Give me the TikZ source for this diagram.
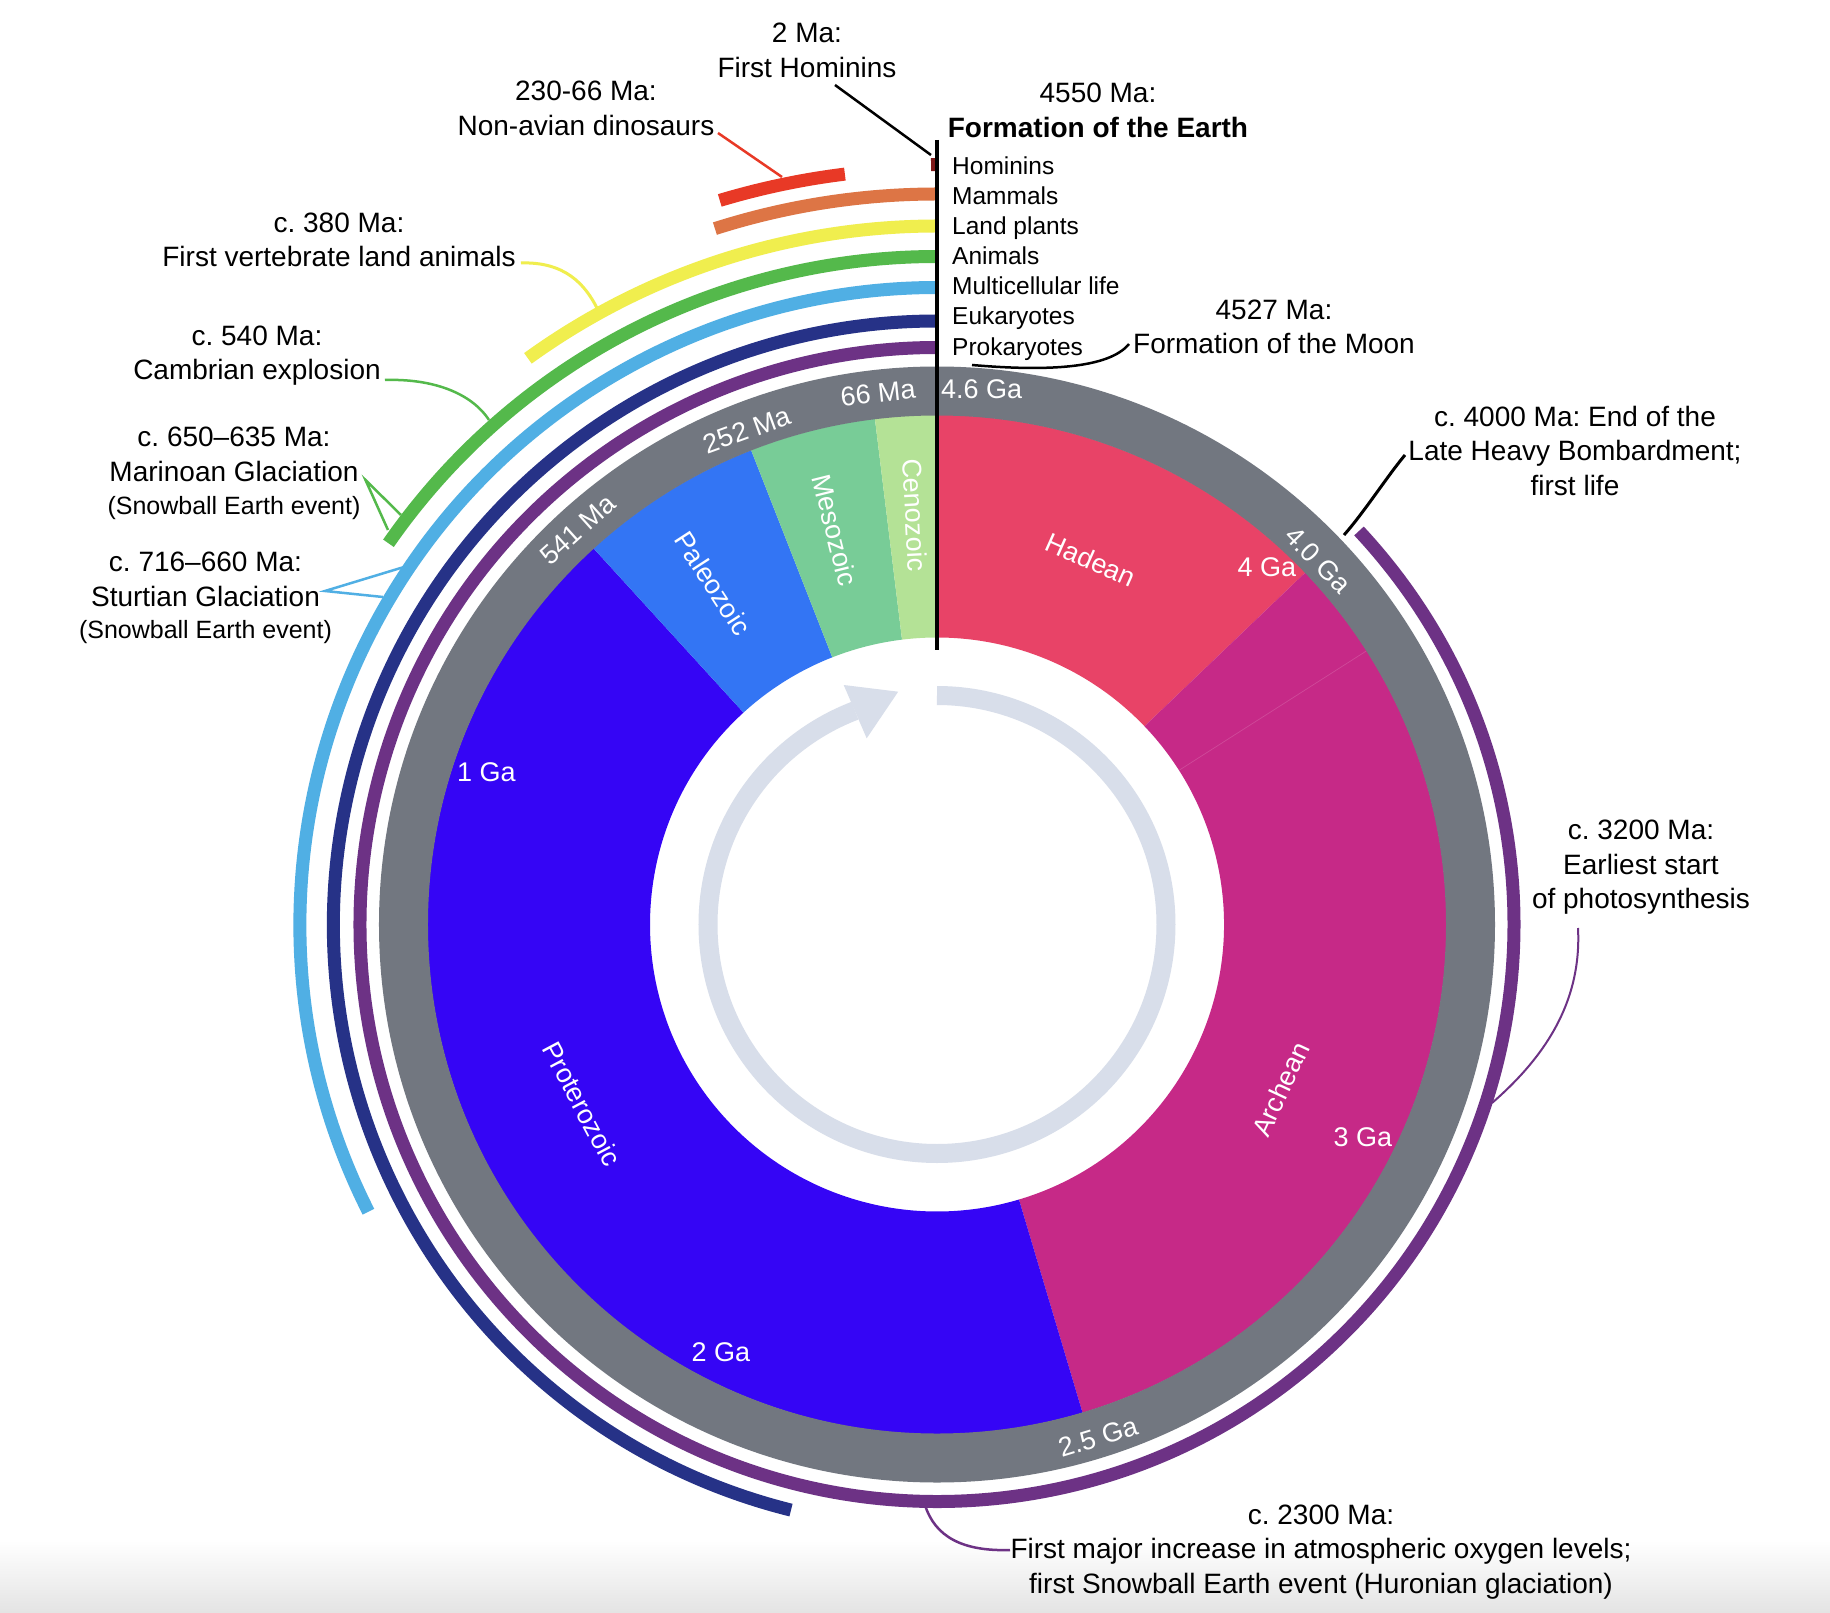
\documentclass[tikz,border=0pt]{standalone}
\usepackage{fontspec}
\setmainfont{Liberation Sans}
\definecolor{ringgray}{RGB}{114,119,128}
\definecolor{hadean}{RGB}{232,67,103}
\definecolor{archean}{RGB}{198,41,135}
\definecolor{proterozoic}{RGB}{53,5,245}
\definecolor{paleozoic}{RGB}{51,117,244}
\definecolor{mesozoic}{RGB}{120,204,151}
\definecolor{cenozoic}{RGB}{180,226,150}
\definecolor{arrowgray}{RGB}{216,222,234}
\definecolor{prok}{RGB}{109,50,133}
\definecolor{euk}{RGB}{38,50,135}
\definecolor{multi}{RGB}{80,175,228}
\definecolor{anim}{RGB}{84,185,75}
\definecolor{plants}{RGB}{240,238,78}
\definecolor{mammals}{RGB}{221,117,69}
\definecolor{dinos}{RGB}{232,57,38}
\definecolor{homin}{RGB}{125,25,25}
\definecolor{bottomgray}{RGB}{228,228,228}
\newcommand{\wedgeseg}[3]{\fill[#1] (#2:287) arc[start angle=#2, end angle=#3, radius=287] -- (#3:509.5) arc[start angle=#3, end angle=#2, radius=509.5] -- cycle;}
\frenchspacing
\begin{document}
\begin{tikzpicture}[x=1pt,y=1pt,
  lbl/.style={font=\fontsize{28}{34.5}\selectfont, align=center, inner sep=0pt},
  smalllbl/.style={font=\fontsize{25}{30}\selectfont, inner sep=0pt},
  ringlbl/.style={text=white, font=\fontsize{27}{32}\selectfont, inner sep=0pt},
  leg/.style={font=\fontsize{24.5}{30}\selectfont, anchor=base west, inner sep=0pt},
  band/.style={line width=13},
  callout/.style={line width=2.5}]
\useasboundingbox (-937,-687.5) rectangle (893,924.5);
\fill[white] (-937,-687.5) rectangle (893,924.5);
\shade[top color=white, bottom color=bottomgray] (-937,-687.5) rectangle (893,-615.5);

% era wedges
\wedgeseg{hadean}{43.7}{90}
\wedgeseg{archean}{-73.4}{43.7}
\wedgeseg{proterozoic}{132.4}{286.6}
\wedgeseg{paleozoic}{111.4}{132.4}
\wedgeseg{mesozoic}{97}{111.4}
\wedgeseg{cenozoic}{90}{97}
\draw[archean!85!white, line width=0.7] (32.5:287) -- (32.5:509);

% gray time ring
\fill[ringgray, even odd rule] (0,0) circle[radius=558] (0,0) circle[radius=509];

% inner arrow
\draw[arrowgray, line width=19] (90:229) arc[start angle=90, end angle=-249, radius=229];
\fill[arrowgray] (-93.3,239.5) -- (-38.8,232.8) -- (-70.3,186.2) -- cycle;

% life bands
\draw[band, prok] (403:577) arc[start angle=403, end angle=90, radius=577];
\draw[band, euk] (256:603.5) arc[start angle=256, end angle=90, radius=603.5];
\draw[band, multi] (206.8:637) arc[start angle=206.8, end angle=90, radius=637];
\draw[band, anim] (145.2:668) arc[start angle=145.2, end angle=90, radius=668];
\draw[band, plants] (125.85:698.5) arc[start angle=125.85, end angle=90, radius=698.5];
\draw[band, mammals] (107.7:730.5) arc[start angle=107.7, end angle=90, radius=730.5];
\draw[band, dinos] (106.7:756) arc[start angle=106.7, end angle=97, radius=756];
\draw[band, homin] (90.45:760) arc[start angle=90.45, end angle=90, radius=760];

% vertical line
\coordinate (vtop) at (0,784.5);
\coordinate (vbot) at (0,274.5);
\draw[line width=4.5] (vtop) -- (vbot);

% callout coordinates
\coordinate (homA) at (-102,839.5);
\coordinate (homB) at (-6,769.5);
\coordinate (dinA) at (-219,791.5);
\coordinate (dinB) at (-155,747.5);
\coordinate (vertA) at (-416,661.5);
\coordinate (vertB) at (-340,616.5);
\coordinate (cambA) at (-552,544.5);
\coordinate (cambB) at (-448,504.5);
\coordinate (marA) at (-571.5,444.5);
\coordinate (marB) at (-536,409.5);
\coordinate (marC) at (-549,394.5);
\coordinate (stuA) at (-612,333.5);
\coordinate (stuB) at (-533,357.5);
\coordinate (stuC) at (-554,327.5);
\coordinate (moonA) at (35,559.5);
\coordinate (moonB) at (192,580.5);
\coordinate (lhbA) at (407,389.5);
\coordinate (lhbB) at (468,469.5);
\coordinate (phoA) at (641,-3.5);
\coordinate (phoB) at (555,-178.5);
\coordinate (oxyA) at (73,-625.5);
\coordinate (oxyB) at (-12,-580.5);

\draw[callout] (homA) -- (homB);
\draw[callout, dinos] (dinA) -- (dinB);
\draw[callout, plants, line width=3] (vertA) .. controls (-372,663) and (-352,640) .. (vertB);
\draw[callout, anim] (cambA) .. controls (-505,546) and (-466,532) .. (cambB);
\draw[callout, anim] (marB) -- (marA) -- (marC);
\draw[callout, multi] (stuB) -- (stuA) -- (stuC);
\draw[callout] (moonA) .. controls (110,553) and (172,556) .. (moonB);
\draw[callout, line width=3] (lhbA) .. controls (427,412) and (450,448) .. (lhbB);
\draw[callout, prok, line width=2] (phoA) .. controls (645,-80) and (605,-135) .. (phoB);
\draw[callout, prok] (oxyA) .. controls (25,-627) and (-2,-612) .. (oxyB);

% legend
\node[leg] (lhom) at (15,750) {Hominins};
\node[leg] (lmam) at (15,719.9) {Mammals};
\node[leg] (lpla) at (15,689.8) {Land plants};
\node[leg] (lani) at (15,659.7) {Animals};
\node[leg] (lmul) at (15,629.6) {Multicellular life};
\node[leg] (leuk) at (15,599.5) {Eukaryotes};
\node[leg] (lpro) at (15,569.4) {Prokaryotes};

% event labels
\node[lbl] (thom) at (-130,874) {2 Ma:\\First Hominins};
\node[lbl] (tdin) at (-351,816) {230-66 Ma:\\Non-avian dinosaurs};
\node[lbl] (tear) at (161,814) {4550 Ma:\\\textbf{Formation of the Earth}};
\node[lbl] (tmoo) at (337,597.5) {4527 Ma:\\Formation of the Moon};
\node[lbl] (tlhb) at (638,474) {c. 4000 Ma: End of the\\Late Heavy Bombardment;\\first life};
\node[lbl] (tpho) at (704,57) {c. 3200 Ma:\\Earliest start\\of photosynthesis};
\node[lbl] (toxy) at (384,-627.5) {c. 2300 Ma:\\First major increase in atmospheric oxygen levels;\\first Snowball Earth event (Huronian glaciation)};
\node[lbl] (tver) at (-598,684.5) {c. 380 Ma:\\First vertebrate land animals};
\node[lbl] (tcam) at (-680,569) {c. 540 Ma:\\Cambrian explosion};
\node[lbl] (tmar) at (-703,470) {c. 650–635 Ma:\\Marinoan Glaciation};
\node[smalllbl] (tmar2) at (-703,416.5) {(Snowball Earth event)};
\node[lbl] (tstu) at (-731.5,345) {c. 716–660 Ma:\\Sturtian Glaciation};
\node[smalllbl] (tstu2) at (-731.5,292.5) {(Snowball Earth event)};

% ring labels
\node[ringlbl, anchor=west] (r46) at (4,535.5) {4.6 Ga};
\node[ringlbl, rotate=6] (r66) at (-59,531.5) {66 Ma};
\node[ringlbl, rotate=20] (r252) at (-190,494.5) {252 Ma};
\node[ringlbl, rotate=42] (r541) at (-359,394.5) {541 Ma};
\node[ringlbl, rotate=-46] (r40) at (381,364.5) {4.0 Ga};
\node[ringlbl, rotate=17] (r25) at (161,-512.5) {2.5 Ga};

% era labels
\node[ringlbl, rotate=-24] (ehad) at (154,364.5) {Hadean};
\node[ringlbl] (e4) at (330,357.5) {4 Ga};
\node[ringlbl, rotate=65] (earc) at (343.5,-164.5) {Archean};
\node[ringlbl] (e3) at (426,-213) {3 Ga};
\node[ringlbl, rotate=-62] (epro) at (-355,-179.5) {Proterozoic};
\node[ringlbl] (e1) at (-450.5,152) {1 Ga};
\node[ringlbl] (e2) at (-216,-427.5) {2 Ga};
\node[ringlbl, rotate=-57] (epal) at (-224,341) {Paleozoic};
\node[ringlbl, rotate=-76] (emes) at (-102,394.5) {Mesozoic};
\node[ringlbl, rotate=-87] (ecen) at (-22,409.5) {Cenozoic};
\end{tikzpicture}
\end{document}
